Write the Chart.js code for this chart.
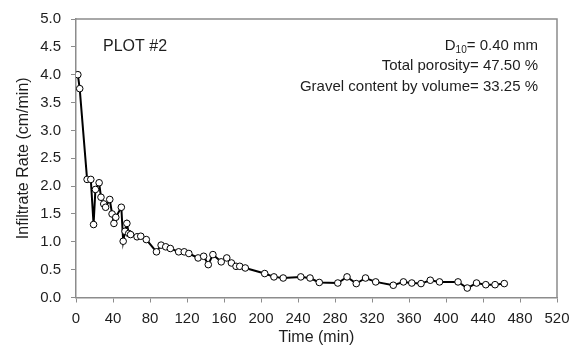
<!DOCTYPE html>
<html>
<head>
<meta charset="utf-8">
<script src="https://cdn.jsdelivr.net/npm/chart.js@4"></script>
<style>
  html, body { margin: 0; padding: 0; background: #fff; }
  #wrap { width: 582px; height: 347px; }
</style>
</head>
<body>
<div id="wrap"><canvas id="grafico"></canvas></div>
<script>
// tempo (min) e taxa de infiltração (cm/min)
const tempos = [2, 4, 12, 16, 19, 21, 25, 27, 30, 32,
  36.5, 39, 41, 43, 49, 51, 53, 55, 57, 59,
  66, 70, 76, 87, 92, 97, 102, 111, 117, 122,
  132, 138, 143, 148, 157, 163, 168, 173, 177, 183,
  204, 214, 224, 243, 253, 263, 283, 293, 303, 313,
  324, 343, 354, 363, 373, 383, 393, 413, 423, 433,
  443, 453, 463];
const taxas = [4.0, 3.75, 2.12, 2.12, 1.31, 1.94, 2.06, 1.80, 1.68, 1.62,
  1.76, 1.50, 1.33, 1.44, 1.62, 1.01, 1.19, 1.33, 1.15, 1.13,
  1.09, 1.10, 1.04, 0.82, 0.94, 0.91, 0.88, 0.82, 0.82, 0.79,
  0.71, 0.74, 0.59, 0.77, 0.64, 0.71, 0.62, 0.56, 0.56, 0.53,
  0.43, 0.37, 0.35, 0.37, 0.35, 0.27, 0.26, 0.37, 0.25, 0.35,
  0.28, 0.22, 0.28, 0.26, 0.25, 0.31, 0.28, 0.28, 0.17, 0.26,
  0.23, 0.23, 0.25];

const tituloPlot = "PLOT #2";
const infoLinhas = ["Total porosity= 47.50 %", "Gravel content by volume= 33.25 %"];

const fonte = "'Liberation Sans', Arial, sans-serif";
const cinza = "#8c8c8c";
const corTexto = "#1e1e1e";

// caixa em volta + textos
const extras = {
  id: "extras",
  afterDraw(chart) {
    const { ctx, chartArea: a } = chart;
    ctx.save();
    ctx.strokeStyle = cinza;
    ctx.lineWidth = 1.5;
    ctx.beginPath();
    ctx.moveTo(a.left, a.top);
    ctx.lineTo(a.right, a.top);
    ctx.lineTo(a.right, a.bottom);
    ctx.stroke();

    ctx.fillStyle = corTexto;
    ctx.textBaseline = "middle";
    ctx.font = "16px " + fonte;
    ctx.textAlign = "left";
    ctx.fillText(tituloPlot, 103, 47);

    ctx.font = "15px " + fonte;
    ctx.textAlign = "right";
    const xr = 538;
    // D10 com subscrito
    const resto = "= 0.40 mm";
    const wResto = ctx.measureText(resto).width;
    ctx.fillText(resto, xr, 46);
    ctx.font = "10px " + fonte;
    const wSub = ctx.measureText("10").width;
    ctx.fillText("10", xr - wResto, 50);
    ctx.font = "15px " + fonte;
    ctx.fillText("D", xr - wResto - wSub, 46);

    ctx.fillText(infoLinhas[0], xr, 66);
    ctx.fillText(infoLinhas[1], xr, 87);
    ctx.restore();
  }
};

const pontos = tempos.map((t, i) => ({ x: t, y: taxas[i] }));

new Chart(document.getElementById("grafico"), {
  type: "scatter",
  data: {
    datasets: [{
      data: pontos,
      showLine: true,
      borderColor: "#000",
      borderWidth: 2,
      pointRadius: 3.3,
      pointBorderWidth: 1,
      pointBackgroundColor: "#fff",
      pointBorderColor: "#000",
    }]
  },
  options: {
    responsive: true,
    maintainAspectRatio: false,
    animation: false,
    layout: { padding: { left: 0, right: 25, top: 18, bottom: 0 } },
    plugins: { legend: { display: false }, tooltip: { enabled: false } },
    scales: {
      x: {
        type: "linear",
        min: 0, max: 520,
        afterFit: (s) => { s.height = 49.5; },
        ticks: { stepSize: 40, color: corTexto, font: { family: fonte, size: 15 }, padding: 7, maxRotation: 0 },
        grid: { drawOnChartArea: false, drawTicks: true, tickLength: 5, color: cinza },
        border: { color: cinza, width: 1.5 },
        title: { display: true, text: "Time (min)", color: corTexto, font: { family: fonte, size: 16 }, padding: { top: 0, bottom: 0 } }
      },
      y: {
        min: 0, max: 5,
        afterFit: (s) => { s.width = 76; },
        ticks: { stepSize: 0.5, color: corTexto, font: { family: fonte, size: 15 }, padding: 10,
          callback: (v) => v.toFixed(1) },
        grid: { drawOnChartArea: false, drawTicks: true, tickLength: 5, color: cinza },
        border: { color: cinza, width: 1.5 },
        title: { display: true, text: "Infiltrate Rate (cm/min)", color: corTexto, font: { family: fonte, size: 16 }, padding: { top: 14, bottom: 0 } }
      }
    }
  },
  plugins: [extras]
});
</script>
</body>
</html>
